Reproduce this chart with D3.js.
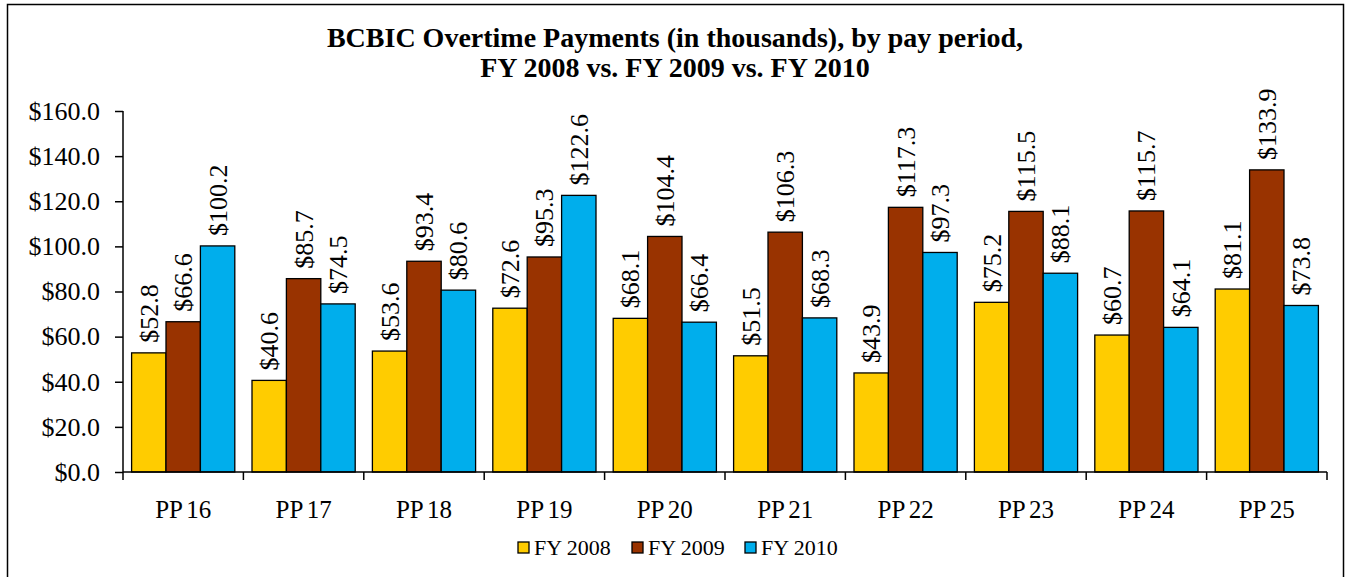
<!DOCTYPE html>
<html>
<head>
<meta charset="utf-8">
<script src="https://cdn.jsdelivr.net/npm/d3@7"></script>
<style>
  body { margin: 0; background: #fff; }
  svg { display: block; }
  svg text { font-family: "Liberation Serif", "Times New Roman", serif; }
</style>
</head>
<body>
<div class="chart"></div>
<script>

var categories = ["PP 16", "PP 17", "PP 18", "PP 19", "PP 20", "PP 21", "PP 22", "PP 23", "PP 24", "PP 25"];
var seriesNames = ["FY 2008", "FY 2009", "FY 2010"];
var fy2008 = [52.8, 40.6, 53.6, 72.6, 68.1, 51.5, 43.9, 75.2, 60.7, 81.1];
var fy2009 = [66.6, 85.7, 93.4, 95.3, 104.4, 106.3, 117.3, 115.5, 115.7, 133.9];
var fy2010 = [100.2, 74.5, 80.6, 122.6, 66.4, 68.3, 97.3, 88.1, 64.1, 73.8];
var yTicks = [0, 20, 40, 60, 80, 100, 120, 140, 160];
var colourPalette = ["#FFCC00", "#993300", "#00AEEC"];

var width = 1349, height = 577;
var plotLeft = 123, plotRight = 1327, plotTop = 111, plotBottom = 472;
var serif = "Liberation Serif, Times New Roman, serif";

var svg = d3.select('.chart')
    .append('svg')
    .attr('width', width)
    .attr('height', height);

// outer frame
svg.append("rect")
    .attr("x", 7.5).attr("y", 4.5)
    .attr("width", 1336).attr("height", 580)
    .attr("fill", "none")
    .attr("stroke", "#000")
    .attr("stroke-width", 1.5);

// title
var title = svg.append("text")
    .attr("text-anchor", "middle")
    .attr("font-family", serif)
    .attr("font-weight", "bold")
    .attr("font-size", 28);
title.append("tspan").attr("x", 675).attr("y", 47)
    .text("BCBIC Overtime Payments (in thousands), by pay period,");
title.append("tspan").attr("x", 675).attr("y", 77)
    .text("FY 2008 vs. FY 2009 vs. FY 2010");

var x = d3.scaleBand()
    .domain(categories)
    .range([plotLeft, plotRight])
    .paddingInner(0)
    .paddingOuter(0);

var xInner = d3.scaleBand()
    .domain(seriesNames)
    .range([0, x.bandwidth()])
    .paddingInner(0)
    .paddingOuter(0.25);

var y = d3.scaleLinear()
    .domain([0, 160])
    .range([plotBottom, plotTop]);

var f = d3.format(".1f");

var rows = categories.map((c, i) => ({
    cat: c,
    values: [fy2008[i], fy2009[i], fy2010[i]]
}));

var groups = svg.append("g")
    .selectAll("g")
    .data(rows)
    .enter()
    .append("g")
    .attr("transform", d => "translate(" + x(d.cat) + ",0)");

groups.selectAll("rect")
    .data(d => d.values.map((v, j) => ({ name: seriesNames[j], value: v, j: j })))
    .enter()
    .append("rect")
    .attr("x", d => xInner(d.name))
    .attr("y", d => y(d.value))
    .attr("width", xInner.bandwidth())
    .attr("height", d => y(0) - y(d.value))
    .attr("fill", d => colourPalette[d.j])
    .attr("stroke", "#000")
    .attr("stroke-width", 1.3);

// value labels, rotated
groups.selectAll("text")
    .data(d => d.values.map((v, j) => ({ name: seriesNames[j], value: v })))
    .enter()
    .append("text")
    .attr("transform", d => "translate(" + (xInner(d.name) + xInner.bandwidth() / 2 + 9) + "," + (y(d.value) - 10) + ") rotate(-90)")
    .attr("font-family", serif)
    .attr("font-size", 26)
    .attr("fill", "#000")
    .text(d => "$" + f(d.value));

// y axis
var yAxis = d3.axisLeft(y)
    .tickValues(yTicks)
    .tickSize(8)
    .tickPadding(15)
    .tickFormat(d => "$" + f(d));

var yg = svg.append("g")
    .attr("transform", "translate(" + plotLeft + ",0)")
    .call(yAxis);
yg.select(".domain").attr("stroke", "#000").attr("stroke-width", 1.5).attr("d", "M0," + plotTop + "V" + plotBottom);
yg.selectAll(".tick line").attr("stroke-width", 1.5);
yg.selectAll(".tick text")
    .attr("font-size", 26)
    .attr("font-family", serif)
    .attr("fill", "#000");

// x axis: ticks at category boundaries
var xg = svg.append("g")
    .attr("transform", "translate(0," + plotBottom + ")");
xg.append("line")
    .attr("x1", plotLeft).attr("x2", plotRight)
    .attr("stroke", "#000").attr("stroke-width", 1.5);
xg.selectAll(".bt")
    .data(categories.concat(["end"]))
    .enter()
    .append("line")
    .attr("x1", (d, i) => plotLeft + i * x.step())
    .attr("x2", (d, i) => plotLeft + i * x.step())
    .attr("y1", 0).attr("y2", 8)
    .attr("stroke", "#000").attr("stroke-width", 1.5);
xg.selectAll(".cl")
    .data(categories)
    .enter()
    .append("text")
    .attr("x", d => x(d) + x.bandwidth() / 2)
    .attr("y", 46)
    .attr("text-anchor", "middle")
    .attr("font-family", serif)
    .attr("font-size", 25)
    .attr("word-spacing", -2)
    .text(d => d);

// legend
var legend = svg.append("g").attr("transform", "translate(518,555)");
var legendX = [0, 114, 227];
var items = legend.selectAll("g")
    .data(seriesNames)
    .enter()
    .append("g")
    .attr("transform", (d, i) => "translate(" + legendX[i] + ",0)");
items.append("rect")
    .attr("x", 0).attr("y", -13)
    .attr("width", 11).attr("height", 11)
    .attr("fill", (d, i) => colourPalette[i])
    .attr("stroke", "#000")
    .attr("stroke-width", 1.3);
items.append("text")
    .attr("x", 16).attr("y", 0)
    .attr("font-family", serif)
    .attr("font-size", 22)
    .text(d => d);

</script>
</body>
</html>
